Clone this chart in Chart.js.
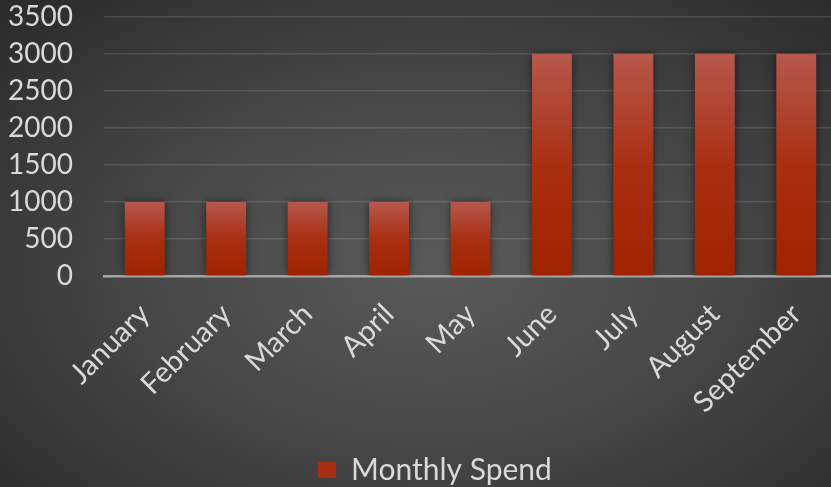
<!DOCTYPE html>
<html>
<head>
<meta charset="utf-8">
<script src="https://cdn.jsdelivr.net/npm/chart.js@4/dist/chart.umd.min.js"></script>
<style>
  html, body { margin: 0; padding: 0; overflow: hidden; }
  #frame {
    width: 831px; height: 487px; overflow: hidden; position: relative;
    background: radial-gradient(ellipse farthest-corner at 52% 55%, #595959 0%, #484848 45%, #2a2a2a 100%);
  }
  #spendChart { position: absolute; left: 0; top: 0; }
</style>
</head>
<body>
<div id="frame">
  <canvas id="spendChart" width="870" height="487"></canvas>
</div>
<script>
const months = ["January", "February", "March", "April", "May", "June", "July", "August", "September"];
const monthlySpend = [1000, 1000, 1000, 1000, 1000, 3000, 3000, 3000, 3000];
const yMin = 0;
const yMax = 3500;
const yStep = 500;

const textColor = "#d9d9d9";
const fontFamily = "Lato, 'Open Sans', sans-serif";

// each bar gets its own top-to-bottom gradient
const barFill = (ctx) => {
    const chart = ctx.chart;
    const yScale = chart.scales.y;
    if (!chart.chartArea || !yScale || ctx.parsed === undefined) return "#a82e12";
    const top = yScale.getPixelForValue(ctx.parsed.y);
    const base = yScale.getPixelForValue(0);
    if (!isFinite(top) || !isFinite(base) || top === base) return "#a82e12";
    const g = chart.ctx.createLinearGradient(0, top, 0, base);
    g.addColorStop(0, "#b6584d");
    g.addColorStop(0.5, "#a92f12");
    g.addColorStop(1, "#9f2300");
    return g;
};

const barShadow = {
    id: "barShadow",
    beforeDatasetsDraw(chart) {
        const c = chart.ctx;
        c.save();
        c.shadowColor = "rgba(0,0,0,0.55)";
        c.shadowBlur = 8;
    },
    afterDatasetsDraw(chart) {
        chart.ctx.restore();
    }
};

const canvasElement = document.querySelector("#spendChart");

const spendChart = new Chart(canvasElement, {
    type: "bar",
    data: {
        labels: months,
        datasets: [{
            label: "Monthly Spend",
            data: monthlySpend,
            backgroundColor: barFill,
            borderWidth: 0,
            barPercentage: 0.49,
            categoryPercentage: 1
        }]
    },
    options: {
        responsive: false,
        animation: false,
        layout: { padding: { top: 0, right: 0, left: 0, bottom: -8 } },
        plugins: {
            tooltip: { enabled: false },
            legend: {
                position: "bottom",
                labels: {
                    color: textColor,
                    font: { family: fontFamily, size: 30 },
                    boxWidth: 18,
                    boxHeight: 16,
                    padding: 2,
                    generateLabels: (chart) => [{
                        text: "Monthly Spend",
                        fillStyle: "#a92f12",
                        strokeStyle: "#a92f12",
                        lineWidth: 0,
                        datasetIndex: 0,
                        fontColor: textColor
                    }]
                }
            }
        },
        scales: {
            x: {
                grid: { display: false, drawTicks: false },
                border: { display: true, color: "#a6a6a6", width: 2.5 },
                ticks: {
                    color: textColor,
                    font: { family: fontFamily, size: 29 },
                    maxRotation: 45,
                    minRotation: 45,
                    padding: 21,
                    autoSkip: false
                },
                afterFit: (scale) => { scale.height = 177; }
            },
            y: {
                min: yMin,
                max: yMax,
                grid: {
                    color: "rgba(255,255,255,0.13)",
                    lineWidth: 1.5,
                    drawTicks: true,
                    tickLength: 31,
                    tickColor: "rgba(0,0,0,0)"
                },
                border: { display: false },
                ticks: {
                    stepSize: yStep,
                    autoSkip: false,
                    color: textColor,
                    font: { family: fontFamily, size: 28 },
                    padding: 0,
                    callback: (value) => String(value)
                },
                afterFit: (scale) => { scale.width = 104; }
            },
            // empty right-hand spacer so the plot stops before the canvas edge
            yRight: {
                position: "right",
                min: yMin,
                max: yMax,
                grid: { display: false },
                border: { display: false },
                ticks: { display: false },
                afterFit: (scale) => { scale.width = 33; }
            }
        }
    },
    plugins: [barShadow]
});
</script>
</body>
</html>
